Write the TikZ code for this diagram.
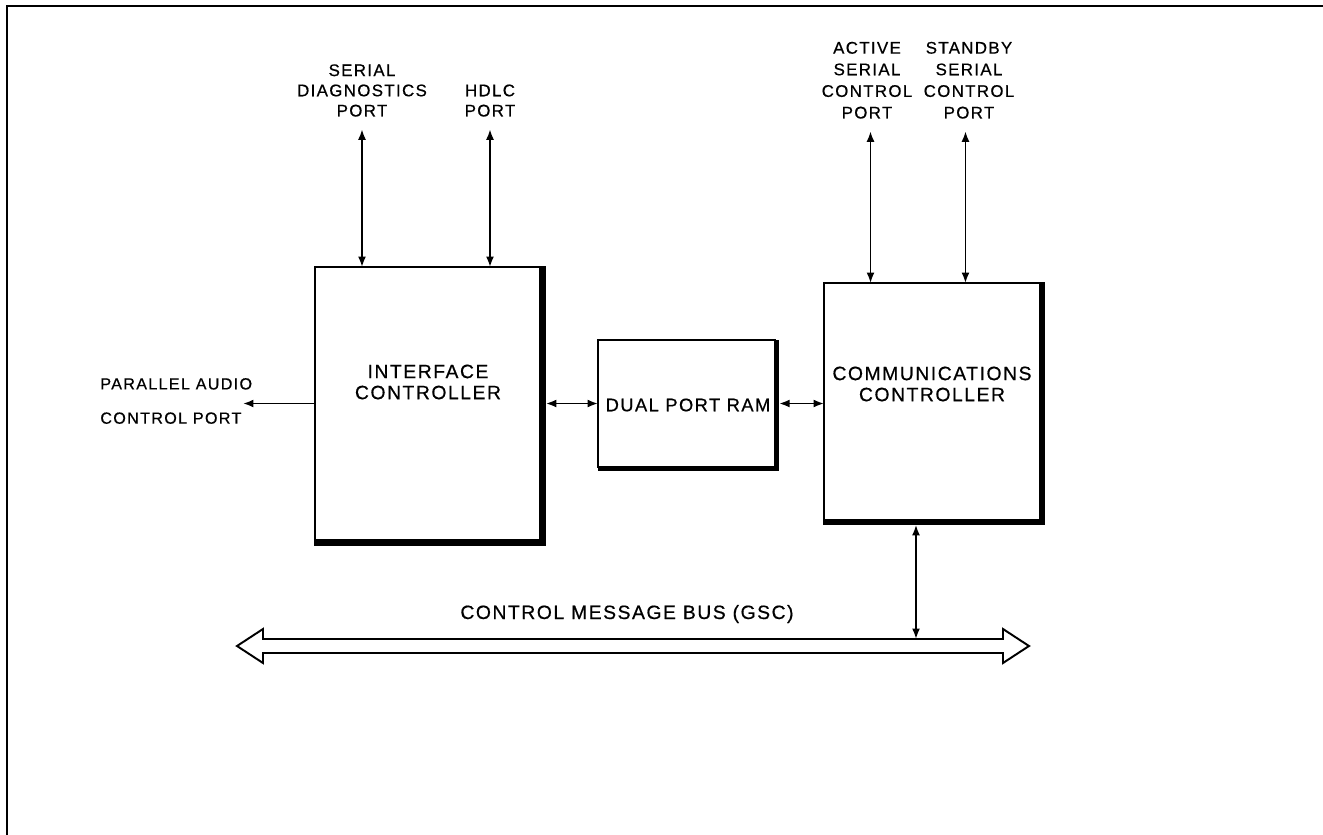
\documentclass[tikz,border=0pt]{standalone}
\usepackage{fontspec}
\setmainfont{Liberation Sans}[LetterSpace=8, FakeBold=0.6]
\usetikzlibrary{arrows.meta,positioning}
\tikzset{
    blockbox/.style={draw, line width=1.1pt, outer sep=0pt, inner sep=0pt},
    blocktext/.style={align=center, font=\fontsize{11}{12}\selectfont},
    portlabel/.style={align=center, inner sep=0pt, anchor=south, font=\fontsize{9.6}{11.5}\selectfont},
    shadowline/.style={line width=#1, line join=miter, line cap=rect},
    biarrow/.style={{Latex[length=2.1mm,width=1.6mm]}-{Latex[length=2.1mm,width=1.6mm]}, line width=1pt},
    onearrow/.style={-{Latex[length=2.1mm,width=1.6mm]}, line width=1pt}
}

\begin{document}
\begin{tikzpicture}[x=0.02cm, y=-0.02cm]
\useasboundingbox (0,0) rectangle (1323,835);
% frame
\draw[line width=1.3pt] (7,835) -- (7,6) -- (1323,6);

% blocks
\node[blockbox, minimum width=4.5cm, minimum height=5.46cm] (ic) at (427.5,403.5) {};
\node[blockbox, minimum width=3.54cm, minimum height=2.54cm] (ram) at (686.5,403.5) {};
\node[blockbox, minimum width=4.32cm, minimum height=4.74cm] (comm) at (932,401.5) {};
\draw[shadowline=3.4pt] ([xshift=1.7pt,yshift=-1pt]ic.north east) -- ([xshift=1.7pt,yshift=-1.7pt]ic.south east) -- ([xshift=1pt,yshift=-1.7pt]ic.south west);
\draw[shadowline=2.4pt] ([xshift=1.2pt,yshift=-1pt]ram.north east) -- ([xshift=1.2pt,yshift=-1.2pt]ram.south east) -- ([xshift=1pt,yshift=-1.2pt]ram.south west);
\draw[shadowline=2.8pt] ([xshift=1.4pt,yshift=-1pt]comm.north east) -- ([xshift=1.4pt,yshift=-1.4pt]comm.south east) -- ([xshift=1pt,yshift=-1.4pt]comm.south west);

\node[blocktext] (ictext) at (428,382) {INTERFACE\\CONTROLLER};
\node[blocktext, font=\fontsize{10.4}{12}\selectfont] (ramtext) at (688,405) {DUAL PORT RAM};
\node[blocktext] (commtext) at (932,384) {COMMUNICATIONS\\CONTROLLER};

% port labels
\node[portlabel] (sdp) at (362,117) {SERIAL\\DIAGNOSTICS\\PORT};
\node[portlabel] (hdlc) at (490,117) {HDLC\\PORT};
\node[portlabel, font=\fontsize{9.6}{12.3}\selectfont] (ascp) at (867,119) {ACTIVE\\SERIAL\\CONTROL\\PORT};
\node[portlabel, font=\fontsize{9.6}{12.3}\selectfont] (sscp) at (969,119) {STANDBY\\SERIAL\\CONTROL\\PORT};
\node[align=left, inner sep=0pt, anchor=west, font=\fontsize{9.2}{19.5}\selectfont] (pacp) at (100,401) {PARALLEL AUDIO\\CONTROL PORT};
\coordinate (pacpend) at (243,403.5);

\draw[biarrow, shorten <=7pt] (sdp.south) -- (sdp.south |- ic.north);
\draw[biarrow, shorten <=7pt] (hdlc.south) -- (hdlc.south |- ic.north);
\draw[biarrow, shorten <=7pt] ([xshift=2pt]ascp.south) -- ([xshift=2pt]ascp.south |- comm.north);
\draw[biarrow, shorten <=7pt] ([xshift=-2pt]sscp.south) -- ([xshift=-2pt]sscp.south |- comm.north);
\draw[onearrow] (ic.west) -- (pacpend);
\draw[biarrow] ([xshift=3.4pt]ic.east) -- (ram.west);
\draw[biarrow] ([xshift=2.4pt]ram.east) -- (comm.west |- ram.east);

% bus
\draw[line width=1.1pt, line join=miter] (237,646) -- (263,629) -- (263,639) -- (1003,639) -- (1003,629)
    -- (1029,646) -- (1003,663) -- (1003,653) -- (263,653) -- (263,663) -- cycle;
\coordinate (busjoin) at (916,639);
\node[blocktext] (buslabel) at (627,614) {CONTROL MESSAGE BUS (GSC)};
\draw[biarrow] ([yshift=-2.8pt]busjoin |- comm.south) -- (busjoin);
\end{tikzpicture}
\end{document}
